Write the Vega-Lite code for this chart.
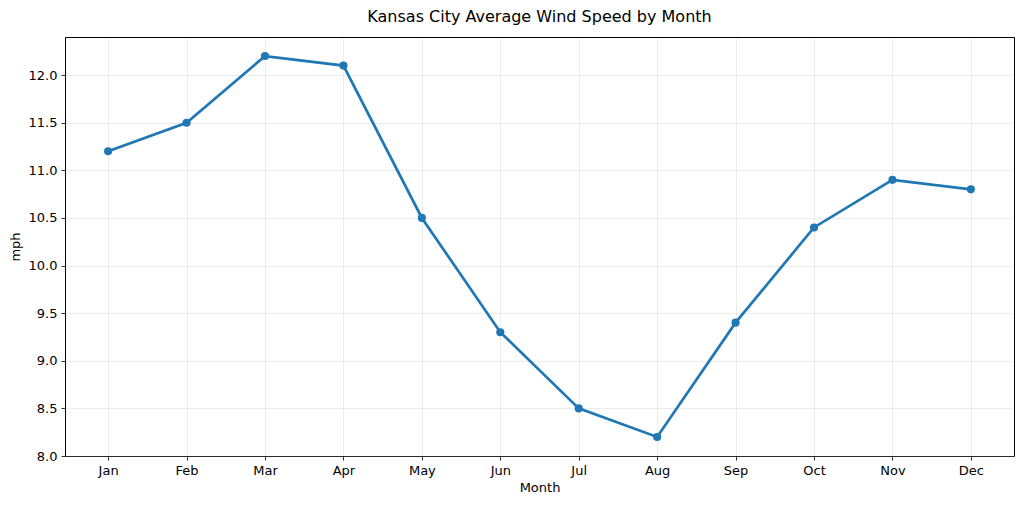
{
  "$schema": "https://vega.github.io/schema/vega-lite/v6.json",
  "description": "Kansas City average wind speed by month.",
  "autosize": {"type": "none"},
  "padding": {"left": 65, "top": 37, "right": 10, "bottom": 49},
  "width": 949,
  "height": 419,
  "background": "white",
  "title": {
    "text": "Kansas City Average Wind Speed by Month",
    "font": "DejaVu Sans",
    "fontSize": 16,
    "fontWeight": "normal",
    "color": "black",
    "offset": 12
  },
  "data": {
    "values": [
      {"month": "Jan", "mph": 11.2},
      {"month": "Feb", "mph": 11.5},
      {"month": "Mar", "mph": 12.2},
      {"month": "Apr", "mph": 12.1},
      {"month": "May", "mph": 10.5},
      {"month": "Jun", "mph": 9.3},
      {"month": "Jul", "mph": 8.5},
      {"month": "Aug", "mph": 8.2},
      {"month": "Sep", "mph": 9.4},
      {"month": "Oct", "mph": 10.4},
      {"month": "Nov", "mph": 10.9},
      {"month": "Dec", "mph": 10.8}
    ]
  },
  "encoding": {
    "x": {
      "field": "month",
      "type": "ordinal",
      "sort": null,
      "title": "Month",
      "scale": {"type": "point", "padding": 0.55},
      "axis": {"labelAngle": 0}
    },
    "y": {
      "field": "mph",
      "type": "quantitative",
      "title": "mph",
      "scale": {"domain": [8.0, 12.4], "nice": false, "zero": false},
      "axis": {"values": [8.0, 8.5, 9.0, 9.5, 10.0, 10.5, 11.0, 11.5, 12.0], "format": ".1f"}
    }
  },
  "layer": [
    {"mark": {"type": "line", "color": "#1f77b4", "strokeWidth": 2.7}},
    {"mark": {"type": "point", "filled": true, "opacity": 1, "color": "#1f77b4", "size": 66}}
  ],
  "config": {
    "view": {"stroke": "black", "strokeWidth": 1},
    "axis": {
      "grid": true,
      "gridColor": "#b0b0b0",
      "gridOpacity": 0.3,
      "gridWidth": 0.8,
      "domain": false,
      "tickColor": "black",
      "tickSize": 4,
      "tickWidth": 0.8,
      "labelFont": "DejaVu Sans",
      "labelFontSize": 13,
      "labelColor": "black",
      "labelPadding": 4,
      "titleFont": "DejaVu Sans",
      "titleFontSize": 13,
      "titleFontWeight": "normal",
      "titleColor": "black"
    },
    "axisX": {"titlePadding": 4},
    "axisY": {"titlePadding": 6}
  }
}
